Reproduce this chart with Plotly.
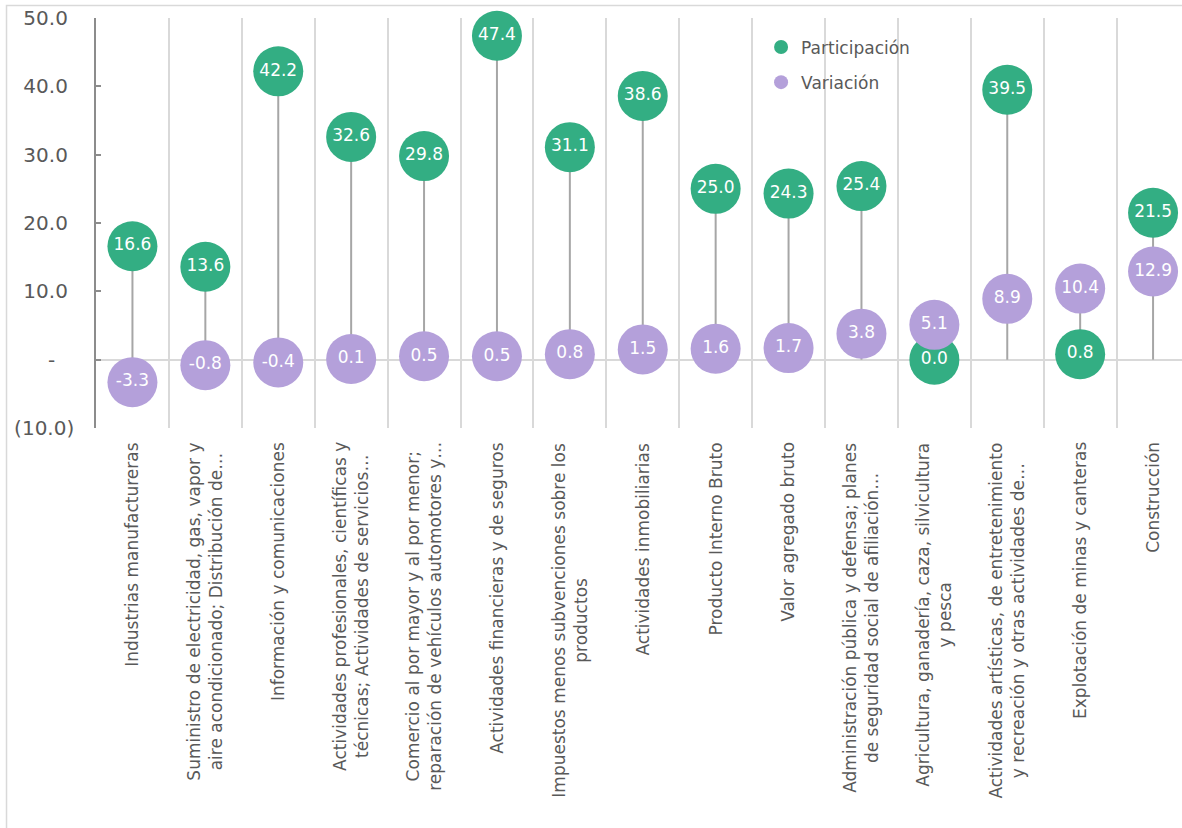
import plotly.graph_objects as go

categorias = [
    "Industrias manufactureras",
    "Suministro de electricidad, gas, vapor y<br>aire acondicionado; Distribución de…",
    "Información y comunicaciones",
    "Actividades profesionales, científicas y<br>técnicas; Actividades de servicios…",
    "Comercio al por mayor y al por menor;<br>reparación de vehículos automotores y…",
    "Actividades financieras y de seguros",
    "Impuestos menos subvenciones sobre los<br>productos",
    "Actividades inmobiliarias",
    "Producto Interno Bruto",
    "Valor agregado bruto",
    "Administración pública y defensa; planes<br>de seguridad social de afiliación…",
    "Agricultura, ganadería, caza, silvicultura<br>y pesca",
    "Actividades artísticas, de entretenimiento<br>y recreación y otras actividades de…",
    "Explotación de minas y canteras",
    "Construcción",
]
participacion = [16.6, 13.6, 42.2, 32.6, 29.8, 47.4, 31.1, 38.6, 25.0, 24.3, 25.4, 0.0, 39.5, 0.8, 21.5]
variacion = [-3.3, -0.8, -0.4, 0.1, 0.5, 0.5, 0.8, 1.5, 1.6, 1.7, 3.8, 5.1, 8.9, 10.4, 12.9]

y_tickvals = [-10, 0, 10, 20, 30, 40, 50]
y_ticktext = ["(10.0)", "-\u00a0\u00a0\u00a0", "10.0\u00a0", "20.0\u00a0", "30.0\u00a0", "40.0\u00a0", "50.0\u00a0"]

GREEN = "#33AE83"
PURPLE = "#B4A0DA"
GRAY_TXT = "#595959"
FONT = "DejaVu Sans, sans-serif"

fig = go.Figure()

# connecting lines (min(0,p,v) .. max(p,v))
lx, ly = [], []
for c, p, v in zip(categorias, participacion, variacion):
    lo = min(0, p, v)
    hi = max(0, p, v)
    lx += [c, c, None]
    ly += [lo, hi, None]
fig.add_trace(go.Scatter(x=lx, y=ly, mode="lines", line=dict(color="#A6A6A6", width=2),
                         showlegend=False, hoverinfo="skip", cliponaxis=False))

fig.add_trace(go.Scatter(
    x=categorias, y=participacion, mode="markers+text", name="Participación",
    marker=dict(size=50, color=GREEN), text=[f"{v:.1f}" for v in participacion],
    textposition="middle center", textfont=dict(color="white", size=17, family=FONT),
    showlegend=False, cliponaxis=False))
fig.add_trace(go.Scatter(
    x=categorias, y=variacion, mode="markers+text", name="Variación",
    marker=dict(size=50, color=PURPLE), text=[f"{v:.1f}" for v in variacion],
    textposition="middle center", textfont=dict(color="white", size=17, family=FONT),
    showlegend=False, cliponaxis=False))

# legend entries
fig.add_trace(go.Scatter(x=[None], y=[None], mode="markers", name="Participación",
                         marker=dict(size=14, color=GREEN), legendgroup="a"))
fig.add_trace(go.Scatter(x=[None], y=[None], mode="markers", name="Variación",
                         marker=dict(size=14, color=PURPLE), legendgroup="b"))

# category labels
for c in categorias:
    fig.add_annotation(x=c, y=-0.03, xref="x", yref="paper", text=c, textangle=-90,
                       showarrow=False, xanchor="center", yanchor="top", align="center",
                       font=dict(size=17, color=GRAY_TXT, family=FONT))

# outer frame
fig.add_shape(type="rect", xref="paper", yref="paper", x0=-0.0824, x1=1.05, y0=-1.2, y1=1.0305,
              line=dict(color="#D9D9D9", width=1.5), layer="below")

fig.update_layout(
    width=1182, height=828,
    margin=dict(l=96, r=0, t=18, b=400),
    plot_bgcolor="white", paper_bgcolor="white",
    font=dict(family=FONT, color=GRAY_TXT),
    legend=dict(x=0.6124, y=0.972, xanchor="left", yanchor="top", font=dict(size=17, color=GRAY_TXT),
                bgcolor="rgba(0,0,0,0)", tracegroupgap=10),
    xaxis=dict(type="category", categoryorder="array", categoryarray=categorias,
               range=[-0.5, 14.397], tickson="boundaries", showgrid=True, gridcolor="#D9D9D9",
               gridwidth=2, showticklabels=False, ticks="", showline=False, zeroline=False),
    yaxis=dict(range=[-10, 50], tickvals=y_tickvals, ticktext=y_ticktext, showgrid=False,
               zeroline=True, zerolinecolor="#D9D9D9", zerolinewidth=2,
               showline=True, linecolor="#8C8C8C", linewidth=1.5,
               ticks="inside", ticklen=5, tickcolor="#8C8C8C", tickwidth=1.5,
               tickfont=dict(size=20, color=GRAY_TXT, family=FONT), ticklabelstandoff=16),
)

fig.write_html("out.html", config={"displayModeBar": False},
               post_script="document.body.style.margin='0';document.body.style.overflow='hidden';")
